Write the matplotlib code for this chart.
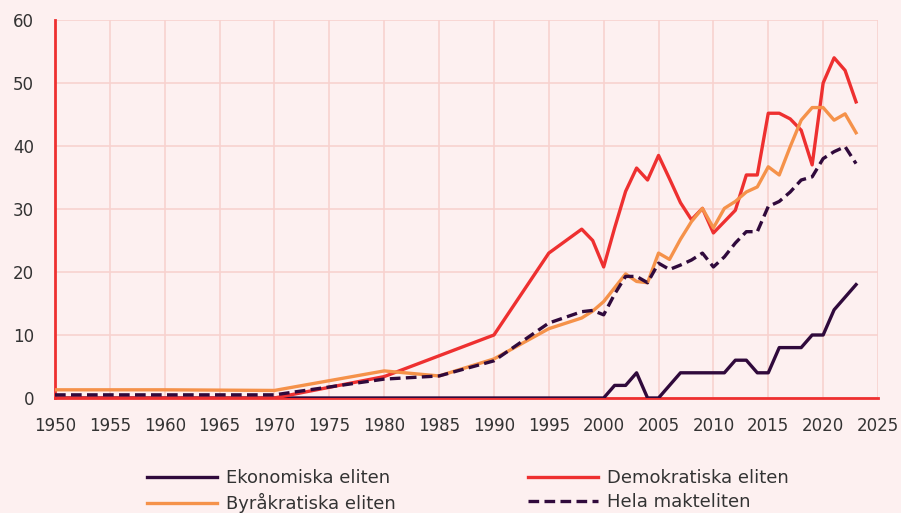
import matplotlib.pyplot as plt

plt.rcParams['font.family'] = ['DejaVu Sans']

years = [1950, 1960, 1970, 1980, 1985, 1990, 1995, 1998, 1999, 2000,
         2001, 2002, 2003, 2004, 2005, 2006, 2007, 2008, 2009, 2010,
         2011, 2012, 2013, 2014, 2015, 2016, 2017, 2018, 2019, 2020,
         2021, 2022, 2023]

ekonomiska = [0, 0, 0, 0, 0, 0, 0, 0, 0, 0,
              2, 2, 4, 0, 0, 2, 4, 4, 4, 4,
              4, 6, 6, 4, 4, 8, 8, 8, 10, 10,
              14, 16, 18]

demokratiska = [0, 0, 0, 3.4, 6.7, 10, 23, 26.8, 25, 20.8,
                27, 32.8, 36.5, 34.6, 38.5, 34.8, 31, 28.3, 30.1, 26.2,
                28, 29.8, 35.4, 35.4, 45.2, 45.2, 44.3, 42.5, 37, 50,
                54, 52, 47]

byrakratiska = [1.3, 1.3, 1.2, 4.3, 3.5, 6.2, 11, 12.7, 13.8, 15.3,
                17.5, 19.7, 18.5, 18.3, 23, 22, 25.2, 28, 30.1, 27,
                30.1, 31.2, 32.7, 33.5, 36.7, 35.4, 39.9, 44.1, 46.1, 46.1,
                44.1, 45.1, 42.1]

hela = [0.5, 0.5, 0.5, 3.0, 3.5, 5.9, 11.9, 13.7, 13.9, 13.2,
        16.5, 19.3, 19.3, 18.3, 21.4, 20.4, 21.1, 21.9, 23, 20.8,
        22.4, 24.6, 26.4, 26.4, 30.4, 31.2, 32.7, 34.6, 35.1, 38,
        39.1, 39.9, 37.2]

bg = '#fdf0f0'
red = '#ee3030'
purple = '#300a3c'
orange = '#f5924a'
grid = '#f8d2cf'
txt = '#333333'

fig = plt.figure(figsize=(9.01, 5.13), dpi=100, facecolor=bg)
ax = fig.add_axes([55/901, 1-398/513, (878-55)/901, (398-20)/513])
ax.set_facecolor(bg)

ax.plot(years, ekonomiska, color=purple, lw=2.4, label='Ekonomiska eliten', zorder=3)
ax.plot(years, demokratiska, color=red, lw=2.4, label='Demokratiska eliten', zorder=3)
ax.plot(years, byrakratiska, color=orange, lw=2.4, label='Byråkratiska eliten', zorder=3)
ax.plot(years, hela, color=purple, lw=2.4, ls=(0, (3.2, 1.6)), label='Hela makteliten', zorder=4)

ax.set_xlim(1950, 2025)
ax.set_ylim(0, 60)
ax.set_xticks(range(1950, 2026, 5))
ax.set_yticks(range(0, 61, 10))
ax.grid(True, color=grid, lw=1.2, zorder=0)
ax.tick_params(length=0, labelsize=12, colors=txt, pad=14)
ax.tick_params(axis='y', pad=15)
for s in ['top', 'right']:
    ax.spines[s].set_visible(False)
ax.spines['left'].set_color(red)
ax.spines['bottom'].set_color(red)
ax.spines['left'].set_linewidth(2)
ax.spines['bottom'].set_linewidth(2)

h, l = ax.get_legend_handles_labels()
fig.legend([h[0], h[2], h[1], h[3]], [l[0], l[2], l[1], l[3]],
           ncol=2, loc='center left', bbox_to_anchor=(138/901, 1-491/513),
           frameon=False, fontsize=13, handlelength=3.9, handletextpad=0.45,
           columnspacing=7.35, borderpad=0, labelspacing=0.32, labelcolor=txt)

fig.savefig('out.png', dpi=100, facecolor=bg)
